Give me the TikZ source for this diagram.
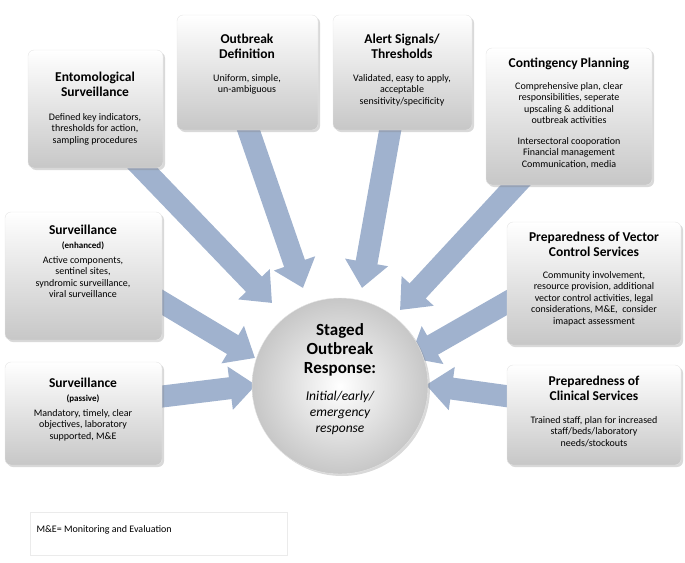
\documentclass[tikz,border=0pt]{standalone}
\usepackage{fontspec}
\setmainfont{Carlito}
\usetikzlibrary{arrows.meta,shadows}
\definecolor{arrc}{RGB}{160,178,206}
\begin{document}
\begin{tikzpicture}[x=1pt,y=-1pt,
  box/.style={rounded corners=6pt,top color=white,bottom color=black!22,draw=black!10,drop shadow={shadow xshift=2pt,shadow yshift=-2pt,opacity=0.3}},
  ttl/.style={font=\bfseries\fontsize{13.5}{15}\selectfont,align=center,anchor=north},
  bod/.style={font=\fontsize{10}{11.5}\selectfont,align=center,anchor=north},
  arr/.style={line width=22pt,draw=arrc,-{Triangle[width=42pt,length=26pt]}}]
\useasboundingbox (0,0) rectangle (685,562);
% arrows
\coordinate (a1s) at (125,150); \coordinate (a1e) at (272,303);
\coordinate (a2s) at (245,120); \coordinate (a2e) at (303,288);
\coordinate (a3s) at (392,120); \coordinate (a3e) at (362,288);
\coordinate (a4s) at (525,175); \coordinate (a4e) at (400,310);
\coordinate (a5s) at (150,295); \coordinate (a5e) at (255,358);
\coordinate (a6s) at (520,295); \coordinate (a6e) at (410,358);
\coordinate (a7s) at (150,398); \coordinate (a7e) at (256,385);
\coordinate (a8s) at (520,398); \coordinate (a8e) at (426,385);
\foreach \i in {1,...,8} \draw[arr] (a\i s) -- (a\i e);
% boxes
\node[box,minimum width=135pt,minimum height=118pt] (b1) at (95.5,109) {};
\node[box,minimum width=141pt,minimum height=115pt] (b2) at (247.5,72.5) {};
\node[box,minimum width=139pt,minimum height=115pt] (b3) at (402.5,72.5) {};
\node[box,minimum width=166pt,minimum height=137pt] (b4) at (569,116.5) {};
\node[box,minimum width=157pt,minimum height=128pt] (b5) at (83.5,276) {};
\node[box,minimum width=174pt,minimum height=123pt] (b6) at (594,283.5) {};
\node[box,minimum width=157pt,minimum height=103pt] (b7) at (83.5,413.5) {};
\node[box,minimum width=174pt,minimum height=100pt] (b8) at (594,415) {};
\node[circle,minimum size=176pt,inner color=white,outer color=black!22,draw=black!10,drop shadow={shadow xshift=2pt,shadow yshift=-2pt,opacity=0.3}] (c) at (340,386) {};
% texts
\node[ttl] (t1) at (95,68) {Entomological\\Surveillance};
\node[bod] (d1) at (95,110) {Defined key indicators,\\thresholds for action,\\sampling procedures};
\node[ttl] (t2) at (247,30) {Outbreak\\Definition};
\node[bod] (d2) at (247,71) {Uniform, simple,\\un-ambiguous};
\node[ttl] (t3) at (402,30) {Alert Signals/\\Thresholds};
\node[bod] (d3) at (402,71) {Validated, easy to apply,\\acceptable\\sensitivity/specificity};
\node[ttl] (t4) at (569,54) {Contingency Planning};
\node[bod] (d4) at (569,79) {Comprehensive plan, clear\\responsibilities, seperate\\upscaling \& additional\\outbreak activities};
\node[bod] (e4) at (569,134) {Intersectoral cooporation\\Financial management\\Communication, media};
\node[ttl] (t5) at (83,221) {Surveillance};
\node[bod,font=\bfseries\fontsize{9}{10}\selectfont] (s5) at (83,238) {(enhanced)};
\node[bod] (d5) at (83,253) {Active components,\\sentinel sites,\\syndromic surveillance,\\viral surveillance};
\node[ttl] (t6) at (594,228) {Preparedness of Vector\\Control Services};
\node[bod] (d6) at (594,268) {Community involvement,\\resource provision, additional\\vector control activities, legal\\considerations, M\&E,\ \ consider\\imapact assessment};
\node[ttl] (t7) at (83,374) {Surveillance};
\node[bod,font=\bfseries\fontsize{9}{10}\selectfont] (s7) at (83,391) {(passive)};
\node[bod] (d7) at (83,406) {Mandatory, timely, clear\\objectives, laboratory\\supported, M\&E};
\node[ttl] (t8) at (594,372) {Preparedness of\\Clinical Services};
\node[bod] (d8) at (594,413) {Trained staff, plan for increased\\staff/beds/laboratory\\needs/stockouts};
\node[font=\bfseries\fontsize{17}{19}\selectfont,align=center,anchor=north] (ct) at (340,320) {Staged\\Outbreak\\Response:};
\node[font=\itshape\fontsize{13.5}{16}\selectfont,align=center,anchor=north] (cd) at (340,388) {Initial/early/\\emergency\\response};
% legend
\node[draw=black!8,minimum width=257pt,minimum height=43pt] (lg) at (158.5,533.5) {};
\node[font=\fontsize{10}{12}\selectfont,anchor=west] (lt) at (33,530) {M\&E= Monitoring and Evaluation};
\end{tikzpicture}
\end{document}
